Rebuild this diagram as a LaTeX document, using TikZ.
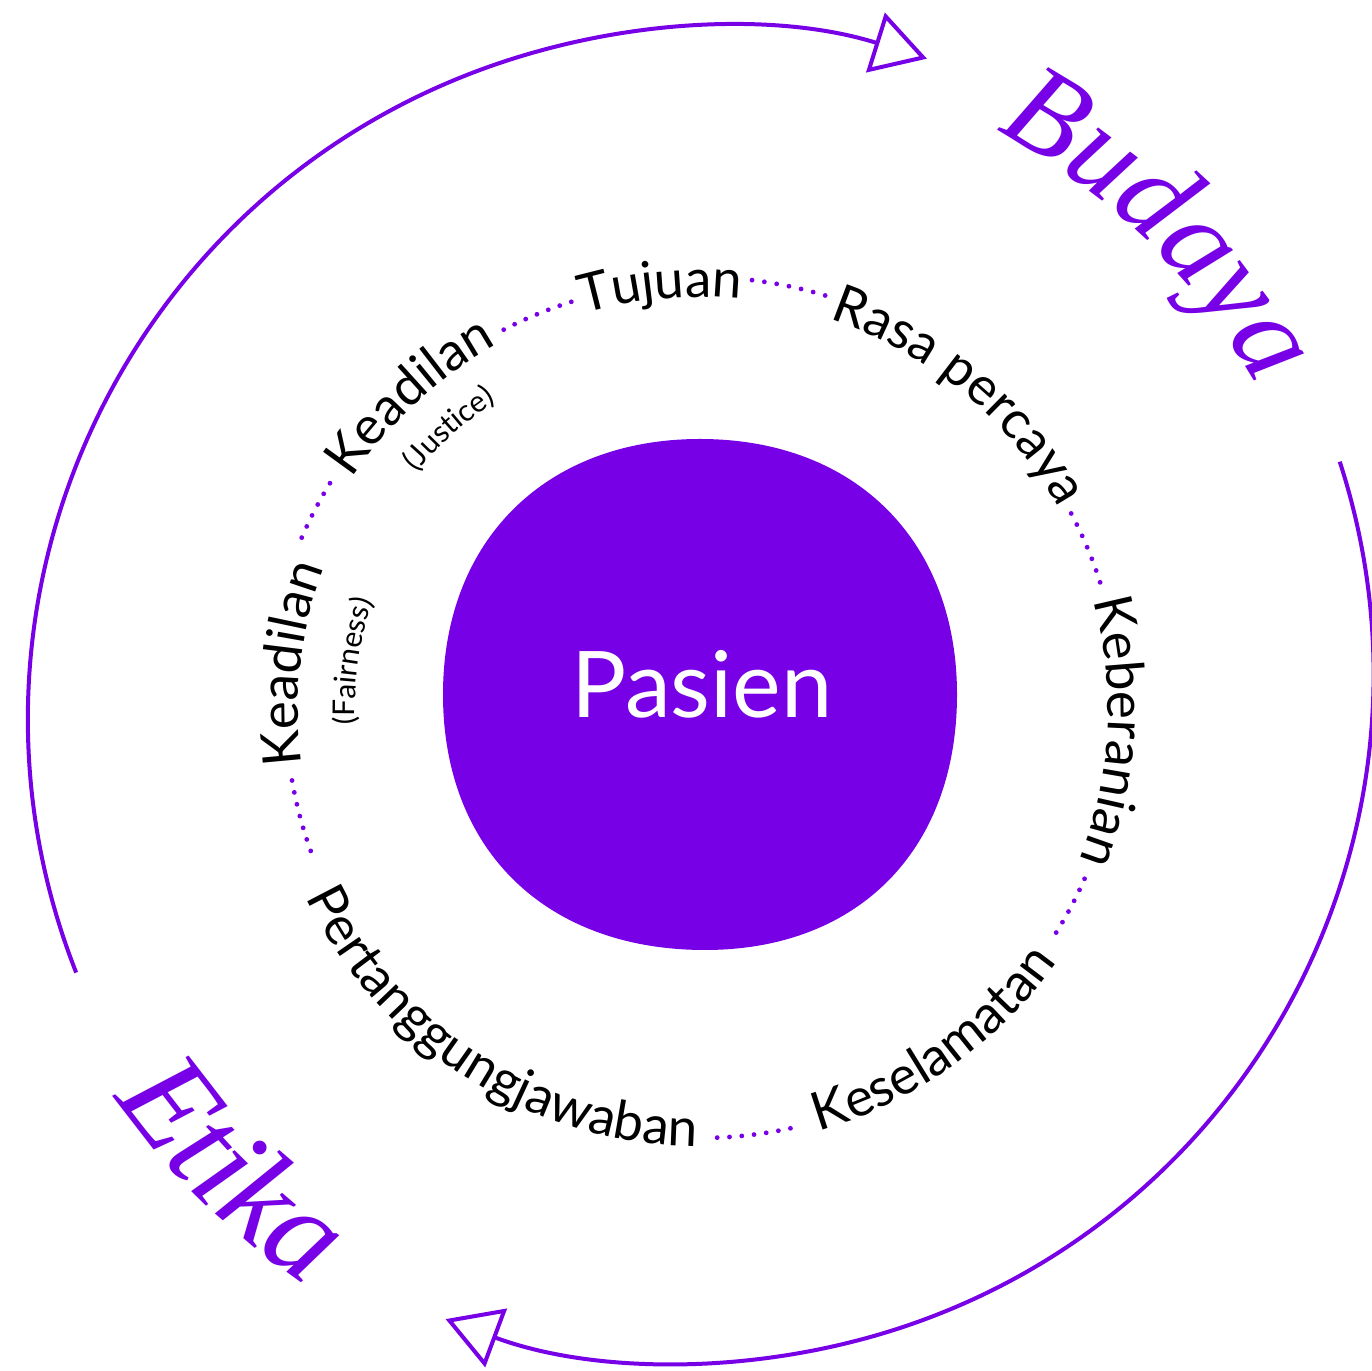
\documentclass[tikz,border=0pt]{standalone}
\usepackage{fontspec}
\usetikzlibrary{decorations.text,arrows.meta}
\newfontfamily\latofont{Lato}
\newfontfamily\serifit{Liberation Serif}
\definecolor{brand}{RGB}{119,0,230}
\newcommand\ringfont{\latofont\fontsize{53}{60}\selectfont\color{black}}
\newcommand\smallringfont{\latofont\fontsize{30}{34}\selectfont\color{black}}
\newcommand\budayafont{\serifit\itshape\fontsize{122}{130}\selectfont\color{brand}}
\newcommand\etikafont{\serifit\itshape\fontsize{130}{140}\selectfont\color{brand}}
% #1 centre, #2 radius, #3 start angle, #4 end angle, #5 format, #6 text
\newcommand\arctext[6]{%
  \path[shift={#1}, decorate, decoration={text along path, text align=center, text={|#5|#6}}]
    (#3:#2) arc[start angle=#3, end angle=#4, radius=#2];}
\tikzset{
  bigarc/.style={draw=brand, line width=4pt, -{Triangle[open, length=54pt, width=62pt]}},
  ringdot/.style={fill=brand},
}
\begin{document}
\begin{tikzpicture}[x=1pt,y=1pt]
\useasboundingbox (0,0) rectangle (1372,1370);
\fill[white] (0,0) rectangle (1372,1370);

% central blob
\fill[brand] (443,675.5) .. controls (443,830) and (546,931) .. (700,931)
  .. controls (856,931) and (957,828.5) .. (957,675.5)
  .. controls (957,520) and (858,420) .. (705,420)
  .. controls (546,420) and (443,520) .. (443,675.5) -- cycle;
\node[anchor=base, text=white, font=\latofont\fontsize{92}{100}\selectfont, inner sep=0pt] (pasien) at (702,652) {Pasien};

% big arcs
\draw[bigarc, shift={(720,651)}] (201.5:692) arc[start angle=201.5, end angle=72.6, radius=692];
\draw[bigarc, shift={(685.4,695.7)}] (18:688) arc[start angle=18, end angle=-110.4, radius=688];

% Budaya / Etika
\arctext{(699,676)}{637}{95.5}{-4.5}{\budayafont}{Budaya}
\arctext{(699,676)}{710}{175.6}{275.6}{\etikafont}{Etika}

% ring labels
\arctext{(700,660)}{413}{135.3}{55.3}{\ringfont}{Tujuan}
\arctext{(700,660)}{412}{95.5}{5.5}{\ringfont}{Rasa percaya}
\arctext{(700,660)}{408}{42}{-48}{\ringfont}{Keberanian}
\arctext{(700,660)}{437}{-99.75}{-9.75}{\ringfont}{Keselamatan}
\arctext{(700,660)}{436}{182.5}{292.5}{\ringfont}{Pertanggungjawaban}
\arctext{(700,660)}{402}{213.5}{133.5}{\ringfont}{Keadilan}
\arctext{(700,660)}{345}{212}{132}{\smallringfont}{(Fairness)}
\arctext{(700,660)}{418}{172.75}{92.75}{\ringfont}{Keadilan}
\arctext{(700,660)}{370}{171.75}{91.75}{\smallringfont}{(Justice)}

% dotted arcs
\foreach \a/\b/\r/\n in {117.3/107.5/428/6, 83.1/73.2/433/6, 27.9/17.7/420/6, -23.7/-32/420/5,
  -87.7/-77.8/428/6, 189.8/199.9/414/6, 148.5/156.6/434/5}{
  \foreach \i in {0,...,\n}{
    \fill[ringdot, shift={(700,660)}] ({\a+(\b-\a)*\i/\n}:\r) circle (2.4);
  }
}
\end{tikzpicture}
\end{document}
